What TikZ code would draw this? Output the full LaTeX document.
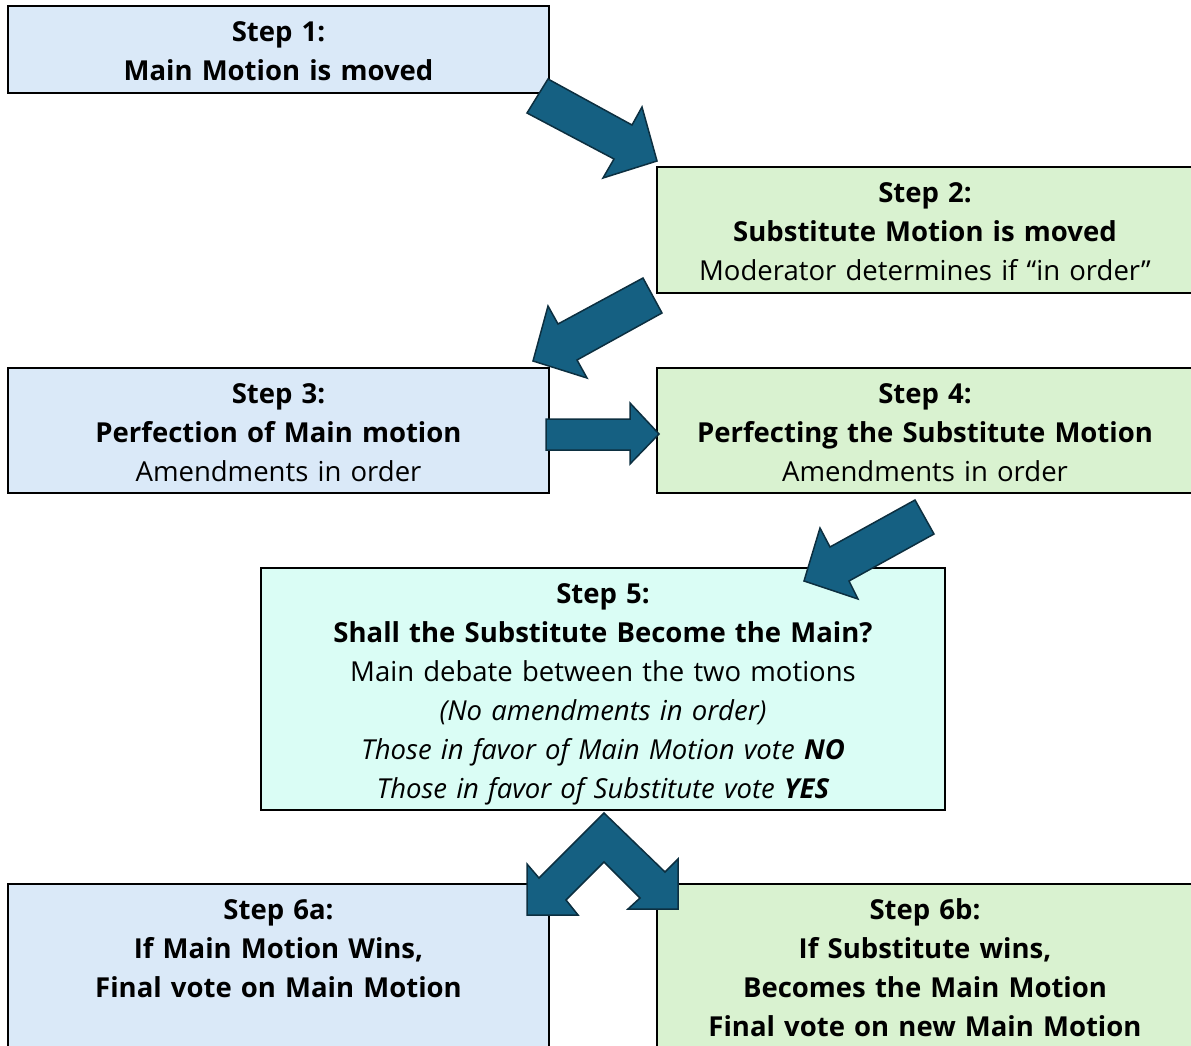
\documentclass[tikz,border=0pt]{standalone}
\usepackage{fontspec}
\setmainfont{Open Sans}
\usetikzlibrary{positioning}

\definecolor{mainblue}{HTML}{DAE9F8}
\definecolor{subgreen}{HTML}{D9F2D0}
\definecolor{debatecyan}{HTML}{DAFDF5}
\definecolor{arrowfill}{HTML}{156082}
\definecolor{arrowline}{HTML}{0C2F40}

\newcommand\topstrut{\rule{0pt}{31pt}}
\newcommand\botstrut{\rule[-8pt]{0pt}{8pt}}

\begin{document}
\begin{tikzpicture}[x=1pt,y=-1pt,
  stepbox/.style={draw=black,line width=2pt,inner sep=0pt,outer sep=0pt,
    align=center,font=\fontsize{27.5}{39}\selectfont,
    execute at begin node=\topstrut,execute at end node=\botstrut},
  mainbox/.style={stepbox,fill=mainblue,text width=541pt},
  subbox/.style={stepbox,fill=subgreen,text width=536pt},
  blockarrow/.style={fill=arrowfill,draw=arrowline,line width=1.5pt,line join=miter}]
  \useasboundingbox (0,0) rectangle (1191,1046);

  \node[mainbox,minimum height=87pt,anchor=north west] (S1) at (8,6)
    {\textbf{Step 1:}\\ \textbf{Main Motion is moved}};
  \node[subbox,minimum height=126pt,below right=74pt and 108pt of S1.south east,anchor=north west] (S2)
    {\textbf{Step 2:}\\ \textbf{Substitute Motion is moved}\\ Moderator determines if “in order”};
  \node[mainbox,minimum height=125pt,below=275pt of S1.south west,anchor=north west] (S3)
    {\textbf{Step 3:}\\ \textbf{Perfection of Main motion}\\ Amendments in order};
  \node[subbox,minimum height=125pt,right=108pt of S3.north east,anchor=north west] (S4)
    {\textbf{Step 4:}\\ \textbf{Perfecting the Substitute Motion}\\ Amendments in order};
  \node[stepbox,fill=debatecyan,text width=684pt,minimum height=242pt,
    below=75pt of S3.south east,xshift=54pt,anchor=north] (S5)
    {\textbf{Step 5:}\\ \textbf{Shall the Substitute Become the Main?}\\
     Main debate between the two motions\\ \textit{(No amendments in order)}\\
     \textit{Those in favor of Main Motion vote \textbf{NO}}\\
     \textit{Those in favor of Substitute vote \textbf{YES}}};
  \node[mainbox,minimum height=165pt,anchor=north west] (S6a) at (8,884)
    {\textbf{Step 6a:}\\ \textbf{If Main Motion Wins,}\\ \textbf{Final vote on Main Motion}\\ \mbox{}};
  \node[subbox,minimum height=165pt,right=108pt of S6a.north east,anchor=north west] (S6b)
    {\textbf{Step 6b:}\\ \textbf{If Substitute wins,}\\ \textbf{Becomes the Main Motion}\\ \textbf{Final vote on new Main Motion}};

  % block arrows between the steps
  \draw[blockarrow] (548,79) -- (632,125) -- (642,107) -- (657,161) -- (603,178) -- (614,159) -- (527,113) -- cycle;
  \draw[blockarrow] (643,278) -- (662,313) -- (577,360) -- (587,378) -- (533,361) -- (548,306) -- (558,324) -- cycle;
  \draw[blockarrow] (546,419) -- (630,419) -- (630,403) -- (659,434) -- (630,464) -- (630,450) -- (546,450) -- cycle;
  \draw[blockarrow] (915,500) -- (934,534) -- (849,581) -- (858,599) -- (804,581) -- (820,528) -- (830,547) -- cycle;
  % split arrow to 6a and 6b
  \draw[blockarrow] (604,813) -- (665,872) -- (678,859) -- (678,909) -- (628,909) -- (640,898) -- (604,862)
    -- (566,900) -- (578,915) -- (527,915) -- (527,864) -- (539,878) -- cycle;
\end{tikzpicture}
\end{document}
